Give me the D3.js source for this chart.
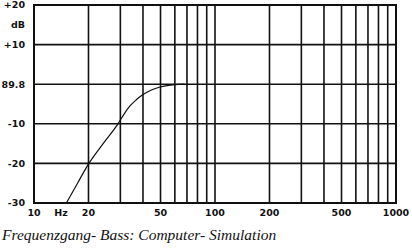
<!DOCTYPE html>
<meta charset="utf-8">
<script src="https://d3js.org/d3.v7.min.js"></script>
<style>
  html, body { margin: 0; padding: 0; background: #fff; }
  svg text { fill: #111; }
  .tick { font-family: 'DejaVu Sans', sans-serif; font-size: 9.5px; font-weight: bold; }
  .caption { font-family: 'Liberation Serif', serif; font-style: italic; font-size: 15.5px; }
</style>
<body>
<div id="chart"></div>
<script>

// frequency grid (Hz)
var gridFreqs = [20, 30, 40, 50, 60, 70, 80, 90, 100, 200, 300, 400, 500, 600, 700, 800, 900];
var xLabelFreqs = [10, 20, 50, 100, 200, 500, 1000];
var xLabels = ["10", "20", "50", "100", "200", "500", "1000"];

// level grid (dB)
var yTicks = [20, 10, 0, -10, -20, -30];
var yLabels = ["+20", "+10", "89.8", "-10", "-20", "-30"];

// simulated response
var respFreq = [15.1, 17.4, 20.1, 24.1, 29.1, 31.4, 33.9, 36.6, 39.5, 42.6, 46, 49.7, 54.3, 60.1, 68];
var respDb = [-30, -25, -20, -15, -10, -7.6, -5.5, -4.0, -2.8, -1.9, -1.2, -0.7, -0.35, -0.12, 0];

var width = 412, height = 248;
var margin = {top: 5, right: 16, bottom: 45, left: 34};

var svg = d3.select("#chart")
  .append("svg")
    .attr("width", width)
    .attr("height", height);

var x = d3.scaleLog()
  .domain([10, 1000])
  .range([margin.left, width - margin.right]);

var y = d3.scaleLinear()
  .domain([-30, 20])
  .range([height - margin.bottom, margin.top]);

// vertical grid
svg.append("g")
  .selectAll("line")
  .data(gridFreqs)
  .enter()
  .append("line")
    .attr("x1", function(d) { return x(d); })
    .attr("x2", function(d) { return x(d); })
    .attr("y1", y(20))
    .attr("y2", y(-30))
    .attr("stroke", "#111")
    .attr("stroke-width", 1.6);

// horizontal grid
svg.append("g")
  .selectAll("line")
  .data(yTicks.slice(1, 5))
  .enter()
  .append("line")
    .attr("x1", x(10))
    .attr("x2", x(1000))
    .attr("y1", function(d) { return y(d); })
    .attr("y2", function(d) { return y(d); })
    .attr("stroke", "#111")
    .attr("stroke-width", 1.6);

// frame
svg.append("rect")
  .attr("x", x(10))
  .attr("y", y(20))
  .attr("width", x(1000) - x(10))
  .attr("height", y(-30) - y(20))
  .attr("fill", "none")
  .attr("stroke", "#111")
  .attr("stroke-width", 2);

// y labels
svg.append("g")
  .selectAll("text")
  .data(yTicks)
  .enter()
  .append("text")
    .attr("class", "tick")
    .attr("x", 25)
    .attr("y", function(d) { return y(d); })
    .attr("dy", "0.36em")
    .attr("text-anchor", "end")
    .text(function(d, i) { return yLabels[i]; });

svg.append("text")
  .attr("class", "tick")
  .attr("x", 25)
  .attr("y", y(15))
  .attr("dy", "0.36em")
  .attr("text-anchor", "end")
  .text("dB");

// x labels
svg.append("g")
  .selectAll("text")
  .data(xLabelFreqs)
  .enter()
  .append("text")
    .attr("class", "tick")
    .attr("x", function(d) { return x(d); })
    .attr("y", y(-30) + 10)
    .attr("dy", "0.36em")
    .attr("text-anchor", "middle")
    .text(function(d, i) { return xLabels[i]; });

svg.append("text")
  .attr("class", "tick")
  .attr("x", x(14.1))
  .attr("y", y(-30) + 10)
  .attr("dy", "0.36em")
  .attr("text-anchor", "middle")
  .text("Hz");

// response curve
var line = d3.line()
  .x(function(d, i) { return x(respFreq[i]); })
  .y(function(d) { return y(d); })
  .curve(d3.curveMonotoneX);

svg.append("path")
  .datum(respDb)
  .attr("d", line)
  .attr("fill", "none")
  .attr("stroke", "#111")
  .attr("stroke-width", 1.2);

// caption
svg.append("text")
  .attr("class", "caption")
  .attr("x", 2)
  .attr("y", 240)
  .text("Frequenzgang- Bass: Computer- Simulation");

</script>
</body>
